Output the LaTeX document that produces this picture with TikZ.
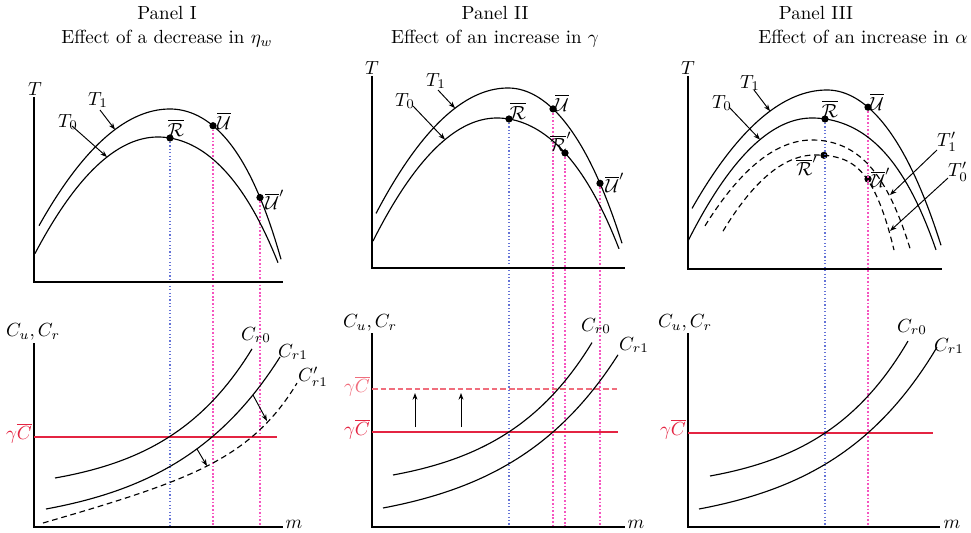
\documentclass[tikz,border=0pt]{standalone}
\usetikzlibrary{arrows.meta}
\definecolor{cred}{RGB}{228,36,66}
\definecolor{clred}{RGB}{240,110,125}
\definecolor{cpink}{RGB}{246,84,192}
\definecolor{cblue}{RGB}{100,115,215}
\begin{document}
\begin{tikzpicture}[x=0.526pt,y=-0.526pt,
  declare function={sq(\t)=(\t)*(\t);},
  crv/.style={line width=0.6pt},
  dcrv/.style={line width=0.6pt, dash pattern=on 3pt off 2pt},
  axisline/.style={line width=1pt},
  bdot/.style={draw=cblue, line width=0.6pt, dash pattern=on 0.6pt off 1.2pt},
  pdot/.style={draw=cpink, line width=0.8pt, dash pattern=on 0.9pt off 1pt},
  ptdot/.style={circle, fill=black, inner sep=0pt, minimum size=3.8pt},
  arr/.style={-{Stealth[length=3.5pt,width=2.6pt]}, line width=0.5pt},
  redline/.style={draw=cred, line width=0.6pt},
  lredline/.style={draw=clred, line width=0.7pt, dash pattern=on 3pt off 1.5pt}]
\useasboundingbox (0,0) rectangle (971,533);

% ---------- titles ----------
\node[anchor=base] (tI1) at (167,19.5) {Panel I};
\node[anchor=base] (tI2) at (167,43.5) {Effect of a decrease in $\eta_w$};
\node[anchor=base] (tII1) at (495,19.5) {Panel II};
\node[anchor=base] (tII2) at (495,43.5) {Effect of an increase in $\gamma$};
\node[anchor=base] (tIII1) at (816,19.5) {Panel III};
\node[anchor=base] (tIII2) at (863,43.5) {Effect of an increase in $\alpha$};

% ================= PANEL I =================
\coordinate (IaT) at (34,97);
\coordinate (IaO) at (34,282);
\coordinate (IaX) at (283,282);
\coordinate (IbT) at (34,343);
\coordinate (IbO) at (34,527);
\coordinate (IbX) at (283,527);
\node[ptdot] (IR) at (170,138) {};
\node[ptdot] (IU) at (213,125.7) {};
\node[ptdot] (IUp) at (260,197.5) {};
\draw[bdot] (IR) -- (IR |- IbO);
\draw[pdot] (IU) -- (IU |- IbO);
\draw[pdot] (IUp) -- (IUp |- IbO);
\draw[axisline] (IaT) -- (IaO) -- (IaX);
\draw[axisline] (IbT) -- (IbO) -- (IbX);
\node (ITl) at (35,89) {$T$};
\draw[crv] plot[domain=39:170,samples=40] (\x,{109+68*sq((\x-170)/100)})
  -- plot[domain=170:281,samples=40] (\x,{109+85*sq((\x-170)/100)+30*sq(sq((\x-170)/100))});
\draw[crv] plot[domain=35:158,samples=40] (\x,{137+77*sq((\x-158)/100)})
  -- plot[domain=158:278,samples=40] (\x,{137+70*sq((\x-158)/100)+12*sq(sq((\x-158)/100))});
\node (IT1l) at (98,100) {$T_1$};
\node (IT0l) at (68,122) {$T_0$};
\coordinate (IT1s) at (100,110);
\coordinate (IT1e) at (115,129.6);
\coordinate (IT0s) at (72,126);
\coordinate (IT0e) at (107,157);
\draw[arr] (IT1s) -- (IT1e);
\draw[arr] (IT0s) -- (IT0e);
\node (IRl) at (176,128) {$\overline{\mathcal{R}}$};
\node (IUl) at (224,121) {$\overline{\mathcal{U}}$};
\node (IUpl) at (275,200) {$\overline{\mathcal{U}}'$};
% bottom
\node (ICl) at (33,332) {$C_u,C_r$};
\node (Iml) at (294,524) {$m$};
\coordinate (IgL) at (34,437);
\coordinate (IgR) at (277,437);
\draw[redline] (IgL) -- (IgR);
\node[text=cred] (Igl) at (19,433) {$\gamma\overline{C}$};
\draw[crv] plot[domain=55:252,samples=50] (\x,{478-15.6*(exp(0.0113*(\x-55))-1)});
\draw[crv] plot[domain=46:280,samples=50] (\x,{509-19.97*(exp(0.0092*(\x-46))-1)});
\draw[dcrv] plot[domain=43:297,samples=60] (\x,{523-0.28*(\x-43)-0.43*(exp(0.02*(\x-43))-1)});
\node (ICr0) at (256,335) {$C_{r0}$};
\node (ICr1) at (293,352) {$C_{r1}$};
\node (ICr1p) at (313,377) {$C_{r1}'$};
\coordinate (IA1s) at (253,395);
\coordinate (IA1e) at (267,421);
\coordinate (IA2s) at (197,449);
\coordinate (IA2e) at (207,466);
\draw[arr] (IA1s) -- (IA1e);
\draw[arr] (IA2s) -- (IA2e);

% ================= PANEL II =================
\coordinate (IIaT) at (372,76);
\coordinate (IIaO) at (372,268);
\coordinate (IIaX) at (625,268);
\coordinate (IIbT) at (372,333);
\coordinate (IIbO) at (372,527);
\coordinate (IIbX) at (625,527);
\node[ptdot] (IIR) at (509,119) {};
\node[ptdot] (IIU) at (553,108.9) {};
\node[ptdot] (IIRp) at (565,153) {};
\node[ptdot] (IIUp) at (600,183.3) {};
\draw[bdot] (IIR) -- (IIR |- IIbO);
\draw[pdot] (IIU) -- (IIU |- IIbO);
\draw[pdot] (IIRp) -- (IIRp |- IIbO);
\draw[pdot] (IIUp) -- (IIUp |- IIbO);
\draw[axisline] (IIaT) -- (IIaO) -- (IIaX);
\draw[axisline] (IIbT) -- (IIbO) -- (IIbX);
\node (IITl) at (372,68) {$T$};
\draw[crv] plot[domain=376:508,samples=40] (\x,{88+72*sq((\x-508)/100)})
  -- plot[domain=508:622,samples=40] (\x,{88+100*sq((\x-508)/100)+15*sq(sq((\x-508)/100))});
\draw[crv] plot[domain=373:497,samples=40] (\x,{118+80*sq((\x-497)/100)})
  -- plot[domain=497:619,samples=40] (\x,{118+70*sq((\x-497)/100)+12*sq(sq((\x-497)/100))});
\node (IIT1l) at (436,81) {$T_1$};
\node (IIT0l) at (405,101) {$T_0$};
\coordinate (IIT1s) at (438,90);
\coordinate (IIT1e) at (455,108.2);
\coordinate (IIT0s) at (413,106);
\coordinate (IIT0e) at (445,139.6);
\draw[arr] (IIT1s) -- (IIT1e);
\draw[arr] (IIT0s) -- (IIT0e);
\node (IIRl) at (518,111) {$\overline{\mathcal{R}}$};
\node (IIUl) at (562,103) {$\overline{\mathcal{U}}$};
\node (IIRpl) at (561,142) {$\overline{\mathcal{R}}'$};
\node (IIUpl) at (615,183) {$\overline{\mathcal{U}}'$};
% bottom
\node (IICl) at (370,323) {$C_u,C_r$};
\node (IIml) at (636,524) {$m$};
\coordinate (IIgL) at (372,432);
\coordinate (IIgR) at (618,432);
\coordinate (IIhL) at (372,389);
\coordinate (IIhR) at (618,389);
\draw[redline] (IIgL) -- (IIgR);
\draw[lredline] (IIhL) -- (IIhR);
\node[text=cred] (IIgl) at (357,429) {$\gamma\overline{C}$};
\node[text=clred] (IIhl) at (357,386) {$\gamma\overline{C}$};
\coordinate (IIA1s) at (415,427);
\coordinate (IIA1e) at (415,393);
\coordinate (IIA2s) at (461,427);
\coordinate (IIA2e) at (461,393);
\draw[arr] (IIA1s) -- (IIA1e);
\draw[arr] (IIA2s) -- (IIA2e);
\draw[crv] plot[domain=393:592,samples=50] (\x,{475-16.7*(exp(0.011*(\x-393))-1)});
\draw[crv] plot[domain=383:618,samples=50] (\x,{508-21*(exp(0.009*(\x-383))-1)});
\node (IICr0) at (596,326) {$C_{r0}$};
\node (IICr1) at (634,345) {$C_{r1}$};

% ================= PANEL III =================
\coordinate (IIIaT) at (688,76);
\coordinate (IIIaO) at (688,269);
\coordinate (IIIaX) at (942,269);
\coordinate (IIIbT) at (688,333);
\coordinate (IIIbO) at (688,527);
\coordinate (IIIbX) at (940,527);
\node[ptdot] (IIIR) at (825,119) {};
\node[ptdot] (IIIU) at (868,107.2) {};
\node[ptdot] (IIIRp) at (824,155.3) {};
\node[ptdot] (IIIUp) at (868,179) {};
\draw[bdot] (IIIR) -- (IIIR |- IIIbO);
\draw[pdot] (IIIU) -- (IIIU |- IIIbO);
\draw[axisline] (IIIaT) -- (IIIaO) -- (IIIaX);
\draw[axisline] (IIIbT) -- (IIIbO) -- (IIIbX);
\node (IIITl) at (688,68) {$T$};
\draw[crv] plot[domain=692:827,samples=40] (\x,{90+65*sq((\x-827)/100)})
  -- plot[domain=827:941,samples=40] (\x,{90+100*sq((\x-827)/100)+15*sq(sq((\x-827)/100))});
\draw[crv] plot[domain=688:812,samples=40] (\x,{118+80*sq((\x-812)/100)})
  -- plot[domain=812:936,samples=40] (\x,{118+55*sq((\x-812)/100)+20*sq(sq((\x-812)/100))});
\draw[dcrv] plot[domain=705:812,samples=40] (\x,{140+75*sq((\x-812)/100)})
  -- plot[domain=812:910,samples=40] (\x,{140+60*sq((\x-812)/100)+55*sq(sq((\x-812)/100))});
\draw[dcrv] plot[domain=723:815,samples=40] (\x,{155+90*sq((\x-815)/100)})
  -- plot[domain=815:894,samples=40] (\x,{155+40*sq((\x-815)/100)+180*sq(sq((\x-815)/100))});
\node (IIIT1l) at (750,83) {$T_1$};
\node (IIIT0l) at (722,103) {$T_0$};
\node (IIIT1pl) at (947,142) {$T_1'$};
\node (IIIT0pl) at (958,172) {$T_0'$};
\coordinate (IIIT1s) at (754,90);
\coordinate (IIIT1e) at (770,111.1);
\coordinate (IIIT0s) at (729,107);
\coordinate (IIIT0e) at (760,139.6);
\coordinate (IIIT1ps) at (937,150);
\coordinate (IIIT1pe) at (890,195);
\coordinate (IIIT0ps) at (948,178);
\coordinate (IIIT0pe) at (890,231);
\draw[arr] (IIIT1s) -- (IIIT1e);
\draw[arr] (IIIT0s) -- (IIIT0e);
\draw[arr] (IIIT1ps) -- (IIIT1pe);
\draw[arr] (IIIT0ps) -- (IIIT0pe);
\node (IIIRl) at (830,109) {$\overline{\mathcal{R}}$};
\node (IIIUl) at (877,102) {$\overline{\mathcal{U}}$};
\node (IIIRpl) at (807,166) {$\overline{\mathcal{R}}'$};
\node (IIIUpl) at (881,178) {$\overline{\mathcal{U}}'$};
% bottom
\node (IIICl) at (685,323) {$C_u,C_r$};
\node (IIIml) at (952,524) {$m$};
\coordinate (IIIgL) at (688,433);
\coordinate (IIIgR) at (933,433);
\draw[redline] (IIIgL) -- (IIIgR);
\node[text=cred] (IIIgl) at (673,429) {$\gamma\overline{C}$};
\draw[crv] plot[domain=710:908,samples=50] (\x,{476-16.1*(exp(0.0113*(\x-710))-1)});
\draw[crv] plot[domain=699:937,samples=50] (\x,{509-20.4*(exp(0.0092*(\x-699))-1)});
\node (IIICr0) at (912,327) {$C_{r0}$};
\node (IIICr1) at (949,346) {$C_{r1}$};
\end{tikzpicture}
\end{document}
